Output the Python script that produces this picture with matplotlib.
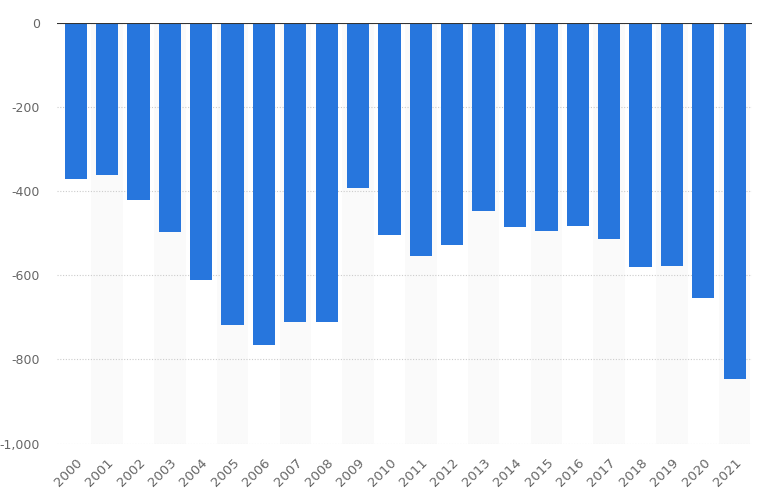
import matplotlib
matplotlib.use("Agg")
import matplotlib.pyplot as plt

years = [str(y) for y in range(2000, 2022)]
values = [-370, -362, -420, -498, -611, -717, -765, -712, -711, -393,
          -504, -555, -528, -448, -485, -494, -482, -513, -581, -579,
          -655, -846]
yticks = [0, -200, -400, -600, -800, -1000]
ytick_labels = ["0", "-200", "-400", "-600", "-800", "-1,000"]

fig = plt.figure(figsize=(7.58, 4.95), dpi=100)
ax = fig.add_axes([0.075, 0.104, 0.917, 0.8495])

x = list(range(len(years)))
for i in x:
    if i % 2 == 1:
        ax.axvspan(i - 0.5, i + 0.5, color="#fafafa", zorder=0, lw=0)

ax.bar(x, values, width=0.71, color="#2776dd", zorder=3)
ax.set_xlim(-0.6, len(years) - 0.45)
ax.set_ylim(-1000, 0)
ax.set_yticks(yticks)
ax.set_yticklabels(ytick_labels)
ax.yaxis.grid(True, linestyle=(0, (1, 1.5)), color="#cccccc", lw=0.8, zorder=1)
ax.axhline(0, color="#333333", lw=1.5, zorder=4)
for s in ax.spines.values():
    s.set_visible(False)
ax.tick_params(axis="both", length=0, colors="#666666", labelsize=9.5)
ax.tick_params(axis="y", pad=12, labelsize=9)
ax.set_xticks(x)
ax.set_xticklabels(years, rotation=45, ha="right", rotation_mode="anchor")
ax.tick_params(axis="x", pad=9)

fig.savefig("out.png", dpi=100)
